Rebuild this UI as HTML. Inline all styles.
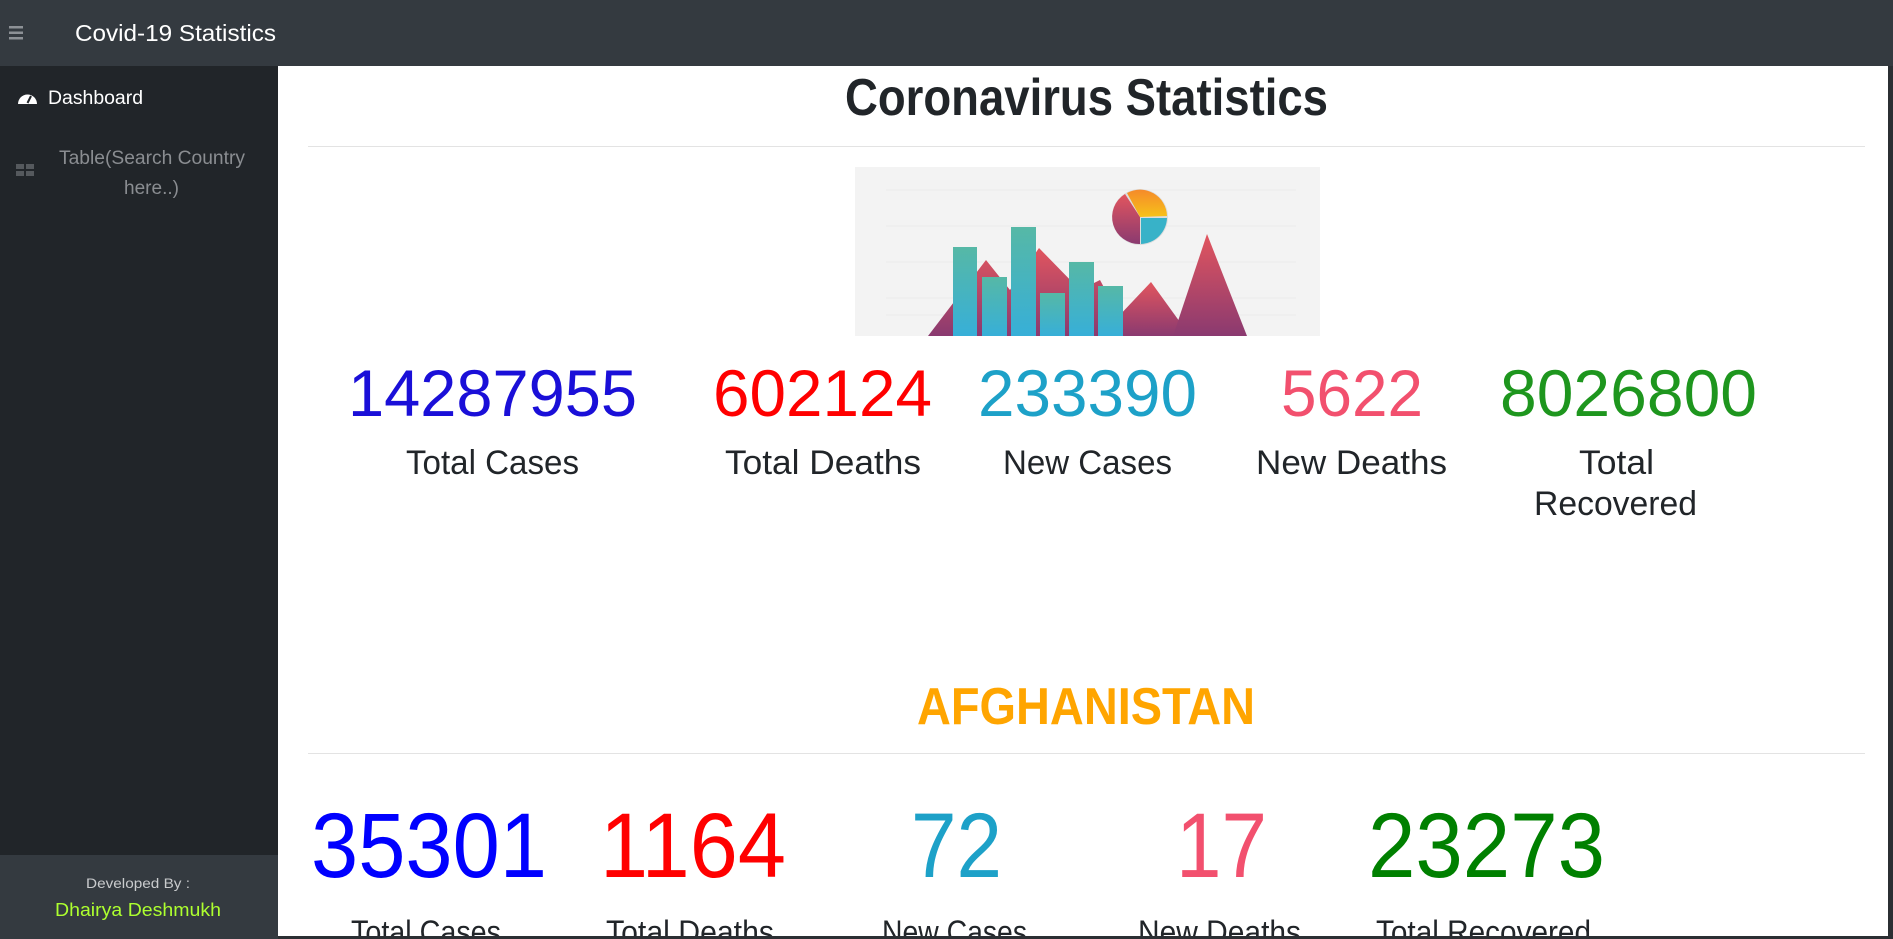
<!DOCTYPE html>
<html><head><meta charset="utf-8"><style>
html,body{margin:0;padding:0;width:1893px;height:939px;overflow:hidden;background:#fff;}
svg{display:block;font-family:"Liberation Sans",sans-serif;}
</style></head><body>
<svg width="1893" height="939" viewBox="0 0 1893 939">
<defs>
<linearGradient id="bar" x1="0" y1="0" x2="0" y2="1"><stop offset="0" stop-color="#56b8a6"/><stop offset="1" stop-color="#37afd8"/></linearGradient>
<linearGradient id="mt" x1="0" y1="0" x2="0" y2="1"><stop offset="0" stop-color="#e2555e"/><stop offset="1" stop-color="#8a3a70"/></linearGradient>
<linearGradient id="pieO" x1="0" y1="0" x2="0" y2="1"><stop offset="0" stop-color="#f58a2a"/><stop offset="1" stop-color="#f7c21a"/></linearGradient>
</defs>
<!-- header -->
<rect x="0" y="0" width="1893" height="66" fill="#343a40"/>
<g fill="#8d9196">
<rect x="9" y="26" width="14" height="2.5"/><rect x="9" y="31.5" width="14" height="2.5"/><rect x="9" y="37" width="14" height="2.5"/>
</g>
<text x="75" y="41" font-size="23" fill="#fff" textLength="201" lengthAdjust="spacingAndGlyphs">Covid-19 Statistics</text>
<!-- sidebar -->
<rect x="0" y="66" width="278" height="873" fill="#212529"/>
<g><path d="M18 104 a9.5 9.5 0 1 1 19 0 z" fill="#fff"/><line x1="27.5" y1="103" x2="31" y2="96" stroke="#212529" stroke-width="2"/></g>
<text x="48" y="104" font-size="19" fill="#fff" textLength="95" lengthAdjust="spacingAndGlyphs">Dashboard</text>
<g fill="#55595d"><rect x="16" y="164" width="8" height="5"/><rect x="26" y="164" width="8" height="5"/><rect x="16" y="171" width="8" height="5"/><rect x="26" y="171" width="8" height="5"/></g>
<g fill="#8a8d91" font-size="19">
<text x="59" y="164" textLength="186" lengthAdjust="spacingAndGlyphs">Table(Search Country</text>
<text x="124" y="194" textLength="55" lengthAdjust="spacingAndGlyphs">here..)</text>
</g>
<rect x="0" y="855" width="278" height="84" fill="#343a40"/>
<text x="86" y="888" font-size="14" fill="#c9cbcd" textLength="104" lengthAdjust="spacingAndGlyphs">Developed By :</text>
<text x="55" y="916" font-size="18" fill="#adff2f" textLength="166" lengthAdjust="spacingAndGlyphs">Dhairya Deshmukh</text>
<!-- right edge -->
<rect x="1888" y="66" width="5" height="873" fill="#2b2f33"/>
<rect x="278" y="936" width="1610" height="3" fill="#2b2f33"/>
<!-- title -->
<text x="845" y="115" font-size="52" font-weight="bold" fill="#212529" textLength="483" lengthAdjust="spacingAndGlyphs">Coronavirus Statistics</text>
<rect x="308" y="146" width="1557" height="1" fill="#e3e3e3"/>
<!-- illustration -->
<g>
<rect x="855" y="167" width="465" height="169" fill="#f3f3f3"/>
<g stroke="#ebebeb" stroke-width="1"><line x1="886" y1="190" x2="1296" y2="190"/><line x1="886" y1="226" x2="1296" y2="226"/><line x1="886" y1="262" x2="1296" y2="262"/><line x1="886" y1="298" x2="1296" y2="298"/><line x1="886" y1="315" x2="1296" y2="315"/></g>
<polygon points="928,336 986,260 1010,290 1039,248 1080,290 1100,280 1130,336" fill="url(#mt)"/>
<polygon points="1100,336 1151,282 1190,336" fill="url(#mt)"/>
<polygon points="1173,336 1207,234 1247,336" fill="url(#mt)"/>
<rect x="953" y="247" width="24" height="89" fill="url(#bar)"/>
<rect x="982" y="277" width="25" height="59" fill="url(#bar)"/>
<rect x="1011" y="227" width="25" height="109" fill="url(#bar)"/>
<rect x="1040" y="293" width="25" height="43" fill="url(#bar)"/>
<rect x="1069" y="262" width="25" height="74" fill="url(#bar)"/>
<rect x="1098" y="286" width="25" height="50" fill="url(#bar)"/>
<circle cx="1140" cy="217" r="28" fill="#ddd"/>
<path d="M1140 217 L1125 194 A27 27 0 0 0 1140 244 Z" fill="url(#mt)"/>
<path d="M1140 217 L1127 193 A27 27 0 0 1 1167 216 Z" fill="url(#pieO)"/>
<path d="M1141 218 L1167 218 A27 27 0 0 1 1141 244 Z" fill="#38b2c8"/>
</g>
<!-- global stats -->
<g font-size="66">
<text x="348" y="416" fill="#1a0fd8" textLength="289" lengthAdjust="spacingAndGlyphs">14287955</text>
<text x="713" y="416" fill="#ff0000" textLength="219" lengthAdjust="spacingAndGlyphs">602124</text>
<text x="978" y="416" fill="#1da1c8" textLength="219" lengthAdjust="spacingAndGlyphs">233390</text>
<text x="1281" y="416" fill="#f2506e" textLength="142" lengthAdjust="spacingAndGlyphs">5622</text>
<text x="1500" y="416" fill="#1e961e" textLength="257" lengthAdjust="spacingAndGlyphs">8026800</text>
</g>
<g font-size="34" fill="#212529">
<text x="406" y="474" textLength="173" lengthAdjust="spacingAndGlyphs">Total Cases</text>
<text x="725" y="474" textLength="196" lengthAdjust="spacingAndGlyphs">Total Deaths</text>
<text x="1003" y="474" textLength="169" lengthAdjust="spacingAndGlyphs">New Cases</text>
<text x="1256" y="474" textLength="191" lengthAdjust="spacingAndGlyphs">New Deaths</text>
<text x="1579" y="474" textLength="75" lengthAdjust="spacingAndGlyphs">Total</text>
<text x="1534" y="515" textLength="163" lengthAdjust="spacingAndGlyphs">Recovered</text>
</g>
<!-- country -->
<text x="917" y="724" font-size="52" font-weight="bold" fill="#ffa500" textLength="338" lengthAdjust="spacingAndGlyphs">AFGHANISTAN</text>
<rect x="308" y="753" width="1557" height="1" fill="#e3e3e3"/>
<g font-size="92">
<text x="311" y="877" fill="#0000ff" textLength="236" lengthAdjust="spacingAndGlyphs">35301</text>
<text x="600" y="877" fill="#ff0000" textLength="186" lengthAdjust="spacingAndGlyphs">1164</text>
<text x="911" y="877" fill="#1da1c8" textLength="91" lengthAdjust="spacingAndGlyphs">72</text>
<text x="1176" y="877" fill="#f2506e" textLength="91" lengthAdjust="spacingAndGlyphs">17</text>
<text x="1368" y="877" fill="#008000" textLength="237" lengthAdjust="spacingAndGlyphs">23273</text>
</g>
<g font-size="32" fill="#212529">
<text x="351" y="943" textLength="150" lengthAdjust="spacingAndGlyphs">Total Cases</text>
<text x="606" y="943" textLength="168" lengthAdjust="spacingAndGlyphs">Total Deaths</text>
<text x="882" y="943" textLength="145" lengthAdjust="spacingAndGlyphs">New Cases</text>
<text x="1138" y="943" textLength="163" lengthAdjust="spacingAndGlyphs">New Deaths</text>
<text x="1376" y="943" textLength="215" lengthAdjust="spacingAndGlyphs">Total Recovered</text>
</g>
<rect x="278" y="936" width="1615" height="3" fill="#2b2f33"/>
</svg>
</body></html>
